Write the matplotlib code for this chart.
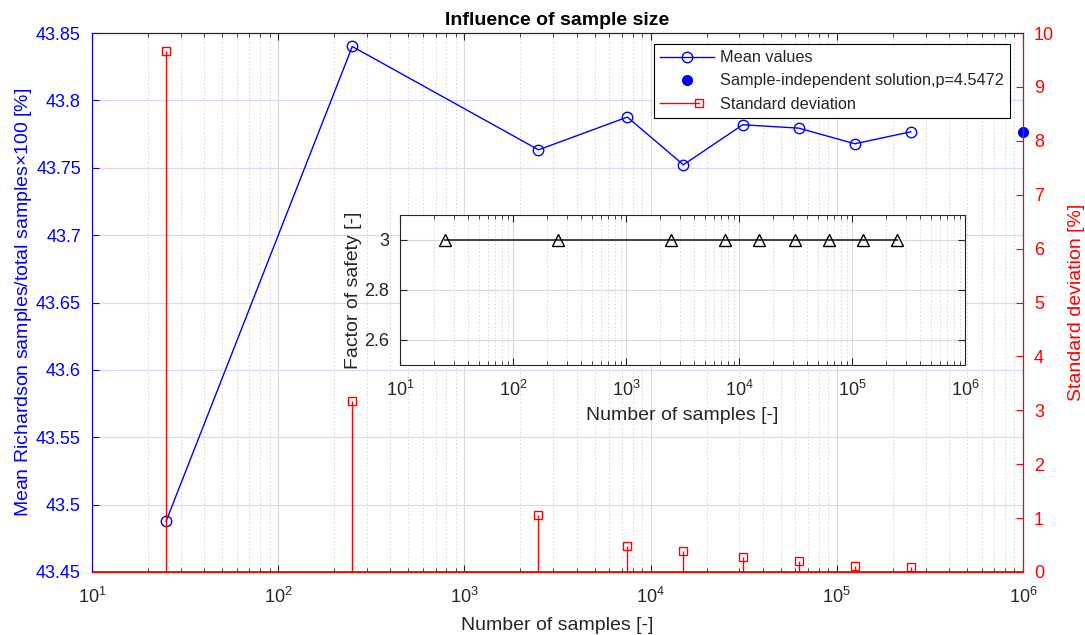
import numpy as np
import matplotlib
matplotlib.use("Agg")
import matplotlib.pyplot as plt
from matplotlib.ticker import LogLocator, NullFormatter
from matplotlib.lines import Line2D
from matplotlib.legend_handler import HandlerBase

plt.rcParams['font.family'] = ['Liberation Sans', 'DejaVu Sans']
plt.rcParams['mathtext.fontset'] = 'custom'
plt.rcParams['mathtext.rm'] = 'Liberation Sans'
plt.rcParams['mathtext.it'] = 'Liberation Sans:italic'

# ---- data ----
samples = [25, 250, 2500, 7500, 15000, 31250, 62500, 125000, 250000]
mean_values = [43.4877, 43.840, 43.7633, 43.7876, 43.7522, 43.7819, 43.7794, 43.7678, 43.7767]
std_values = [9.67, 3.18, 1.06, 0.49, 0.39, 0.27, 0.20, 0.12, 0.10]
indep_x = [1e6]
indep_y = [43.7769]
safety = [3, 3, 3, 3, 3, 3, 3, 3, 3]
left_ticks = [43.45, 43.5, 43.55, 43.6, 43.65, 43.7, 43.75, 43.8, 43.85]
left_labels = ['43.45', '43.5', '43.55', '43.6', '43.65', '43.7', '43.75', '43.8', '43.85']
right_ticks = list(range(0, 11))
inset_yticks = [2.6, 2.8, 3.0]
inset_ylabels = ['2.6', '2.8', '3']

GRAY = '#262626'
BLUE = (0, 0, 1)
RED = (1, 0, 0)
TICK_FS = 13
LABEL_FS = 14


class StemHandler(HandlerBase):
    def create_artists(self, legend, orig_handle, xdescent, ydescent, width, height,
                       fontsize, trans):
        y = height / 2 - ydescent
        x0 = -xdescent
        x1 = -xdescent + 0.72 * width
        ln = Line2D([x0, x1], [y, y], color=RED, lw=1, transform=trans)
        mk = Line2D([x1], [y], marker='s', markersize=6, markerfacecolor='none',
                    markeredgecolor=RED, linestyle='none', transform=trans)
        return [ln, mk]


fig = plt.figure(figsize=(10.85, 6.35), dpi=100)
ax = fig.add_axes([92/1085, 63/635, 931/1085, 539/635])
ax2 = ax.twinx()

# main mean line
ax.set_xscale('log')
ax.set_xlim(10, 1e6)
ax.set_ylim(43.45, 43.85)
l1, = ax.plot(samples, mean_values, color=BLUE, lw=1, marker='o', markersize=7.5,
              markerfacecolor='none', markeredgecolor=BLUE, zorder=5)
l2, = ax.plot(indep_x, indep_y, linestyle='none', marker='o', markersize=7,
              color=BLUE, clip_on=False, zorder=6)

# std stems on right axis
ax2.set_ylim(0, 10)
ax2.vlines(samples, 0, std_values, color=RED, lw=1, zorder=3)
ax2.plot(samples, std_values, linestyle='none', marker='s', markersize=6,
         markerfacecolor='none', markeredgecolor=RED, zorder=4)
ax2.axhline(0, color=RED, lw=1.3, zorder=2)
l3 = Line2D([], [], color=RED)

# grid on main
ax.set_yticks(left_ticks)
ax.set_yticklabels(left_labels)
ax.grid(True, which='major', axis='y', color=(0.84, 0.84, 1.0), lw=0.8)
ax.grid(True, which='major', axis='x', color='#dadada', lw=0.8)
ax.xaxis.set_minor_locator(LogLocator(base=10, subs=np.arange(2, 10), numticks=20))
ax.xaxis.set_minor_formatter(NullFormatter())
ax.grid(True, which='minor', axis='x', color='#d4d4d4', lw=0.6, linestyle=(0, (2, 2.5)))
ax.set_axisbelow(True)

ax.tick_params(axis='x', which='both', direction='in', top=True, colors=GRAY,
               labelsize=TICK_FS, pad=11)
ax.tick_params(axis='x', which='major', length=5)
ax.tick_params(axis='x', which='minor', length=3)
ax.tick_params(axis='y', direction='in', colors=BLUE, labelsize=TICK_FS, length=5, pad=8)
ax2.set_yticks(right_ticks)
ax2.tick_params(axis='y', direction='in', colors=RED, labelsize=TICK_FS, length=5, pad=8)

ax.spines['top'].set_color(GRAY)
ax2.spines['top'].set_color(GRAY)
ax2.spines['left'].set_color(BLUE)
ax2.spines['right'].set_color(RED)
ax2.spines['bottom'].set_color(RED)
ax.spines['left'].set_color(BLUE)
ax.spines['bottom'].set_color(RED)

ax.set_xlabel('Number of samples [-]', color=GRAY, fontsize=LABEL_FS, labelpad=7)
ax.set_ylabel('Mean Richardson samples/total samples$\\times$100 [%]', color=BLUE,
              fontsize=LABEL_FS, labelpad=1)
ax2.set_ylabel('Standard deviation [%]', color=RED, fontsize=LABEL_FS, labelpad=10)
ax.set_title('Influence of sample size', fontsize=14, fontweight='bold', color='black', pad=6)

leg = ax2.legend([l1, l2, l3], ['Mean values', 'Sample-independent solution,p=4.5472',
                                'Standard deviation'],
                 handler_map={l3: StemHandler()},
                 loc='upper right', bbox_to_anchor=(0.986, 0.98), borderaxespad=0,
                 fancybox=False, edgecolor='black', framealpha=1, fontsize=11.7,
                 handlelength=3.3, labelspacing=0.5, borderpad=0.4, handletextpad=0.35)
leg.get_frame().set_linewidth(0.8)
for t in leg.get_texts():
    t.set_color(GRAY)

# inset
axi = fig.add_axes([400/1085, (635-365)/635, 565/1085, 150/635])
axi.set_zorder(10)
axi.set_facecolor('white')
axi.set_xscale('log')
axi.set_xlim(10, 1e6)
axi.set_ylim(2.5, 3.1)
axi.plot(samples, safety, color='#404040', lw=1.4, marker='^', markersize=8.5,
         markerfacecolor='none', markeredgecolor='black')
axi.set_yticks(inset_yticks)
axi.set_yticklabels(inset_ylabels)
axi.xaxis.set_minor_locator(LogLocator(base=10, subs=np.arange(2, 10), numticks=20))
axi.xaxis.set_minor_formatter(NullFormatter())
axi.grid(True, which='major', color='#dadada', lw=0.8)
axi.grid(True, which='minor', axis='x', color='#d4d4d4', lw=0.6, linestyle=(0, (2, 2.5)))
axi.set_axisbelow(True)
axi.tick_params(which='both', direction='in', top=True, right=True, colors=GRAY,
                labelsize=TICK_FS)
axi.tick_params(axis='x', pad=11)
axi.tick_params(axis='y', pad=8)
axi.tick_params(which='major', length=5)
axi.tick_params(which='minor', length=3)
for s in axi.spines.values():
    s.set_color(GRAY)
axi.set_xlabel('Number of samples [-]', color=GRAY, fontsize=LABEL_FS, labelpad=5)
axi.set_ylabel('Factor of safety [-]', color=GRAY, fontsize=LABEL_FS, labelpad=1)

fig.savefig('out.png', dpi=100)
